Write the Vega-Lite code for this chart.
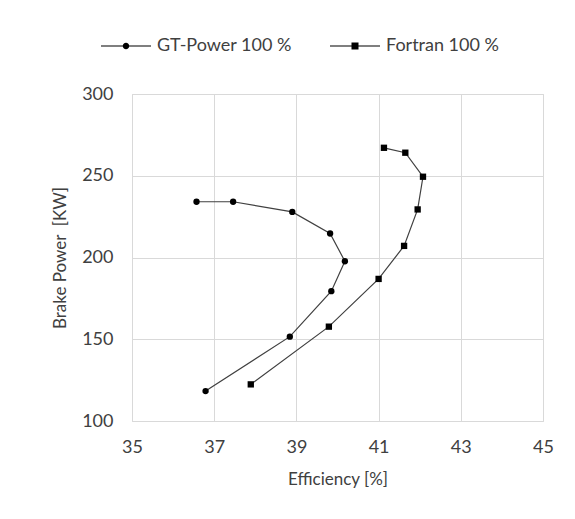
{
  "$schema": "https://vega.github.io/schema/vega-lite/v6.json",
  "autosize": "none",
  "width": 411,
  "height": 327,
  "padding": {"left": 132, "top": 94, "right": 32, "bottom": 98},
  "background": "white",
  "config": {
    "font": "Lato",
    "view": {"stroke": "#d9d9d9", "strokeWidth": 1},
    "axis": {
      "labelFont": "Lato",
      "labelFontSize": 18,
      "labelColor": "#404040",
      "labelFlush": false,
      "titleFont": "Lato",
      "titleFontSize": 17,
      "titleFontWeight": "normal",
      "titleColor": "#404040",
      "gridColor": "#d9d9d9",
      "gridWidth": 1,
      "domain": false,
      "ticks": false
    },
    "legend": {
      "labelFont": "Lato",
      "labelFontSize": 18,
      "labelColor": "#404040"
    }
  },
  "data": {
    "values": [
      {"series": "GT-Power 100 %", "seq": 1, "efficiency": 36.79, "power": 118.3},
      {"series": "GT-Power 100 %", "seq": 2, "efficiency": 38.84, "power": 151.6},
      {"series": "GT-Power 100 %", "seq": 3, "efficiency": 39.85, "power": 179.4},
      {"series": "GT-Power 100 %", "seq": 4, "efficiency": 40.18, "power": 197.7},
      {"series": "GT-Power 100 %", "seq": 5, "efficiency": 39.82, "power": 214.7},
      {"series": "GT-Power 100 %", "seq": 6, "efficiency": 38.9, "power": 227.9},
      {"series": "GT-Power 100 %", "seq": 7, "efficiency": 37.46, "power": 234.1},
      {"series": "GT-Power 100 %", "seq": 8, "efficiency": 36.57, "power": 234.1},
      {"series": "Fortran 100 %", "seq": 1, "efficiency": 37.89, "power": 122.4},
      {"series": "Fortran 100 %", "seq": 2, "efficiency": 39.79, "power": 157.7},
      {"series": "Fortran 100 %", "seq": 3, "efficiency": 41.0, "power": 186.9},
      {"series": "Fortran 100 %", "seq": 4, "efficiency": 41.62, "power": 207.1},
      {"series": "Fortran 100 %", "seq": 5, "efficiency": 41.95, "power": 229.4},
      {"series": "Fortran 100 %", "seq": 6, "efficiency": 42.08, "power": 249.4},
      {"series": "Fortran 100 %", "seq": 7, "efficiency": 41.65, "power": 264.1},
      {"series": "Fortran 100 %", "seq": 8, "efficiency": 41.13, "power": 267.1}
    ]
  },
  "encoding": {
    "x": {
      "field": "efficiency",
      "type": "quantitative",
      "title": "Efficiency [%]",
      "scale": {"domain": [35, 45], "nice": false, "zero": false},
      "axis": {"values": [35, 37, 39, 41, 43, 45], "labelPadding": 17, "titlePadding": 15}
    },
    "y": {
      "field": "power",
      "type": "quantitative",
      "title": "Brake Power \u00a0[KW]",
      "scale": {"domain": [100, 300], "nice": false, "zero": false},
      "axis": {"values": [100, 150, 200, 250, 300], "labelPadding": 19, "titlePadding": 12}
    }
  },
  "resolve": {"scale": {"shape": "independent"}},
  "layer": [
    {
      "mark": {"type": "line", "color": "#404040", "strokeWidth": 1.2},
      "encoding": {
        "detail": {"field": "series"},
        "order": {"field": "seq", "type": "quantitative"}
      }
    },
    {
      "mark": {"type": "point", "filled": true, "color": "black", "opacity": 1, "size": 40},
      "encoding": {
        "shape": {
          "field": "series",
          "type": "nominal",
          "scale": {"domain": ["GT-Power 100 %", "Fortran 100 %"], "range": ["circle", "square"]},
          "legend": null
        }
      }
    },
    {
      "mark": {"type": "point", "filled": true, "color": "black", "opacity": 0},
      "encoding": {
        "shape": {
          "field": "series",
          "type": "nominal",
          "scale": {
            "domain": ["GT-Power 100 %", "Fortran 100 %"],
            "range": [
              "M-1,-0.022H1V0.022H-1Z M0.13,0A0.13,0.13,0,1,1,-0.13,0A0.13,0.13,0,1,1,0.13,0Z",
              "M-1,-0.022H1V0.022H-1Z M-0.14,-0.14H0.14V0.14H-0.14Z"
            ]
          },
          "legend": {
            "title": null,
            "orient": "none",
            "direction": "horizontal",
            "legendX": -32,
            "legendY": -74,
            "symbolSize": 2500,
            "symbolOpacity": 1,
            "symbolFillColor": "black",
            "labelOffset": 5,
            "columnPadding": 35
          }
        }
      }
    }
  ]
}
